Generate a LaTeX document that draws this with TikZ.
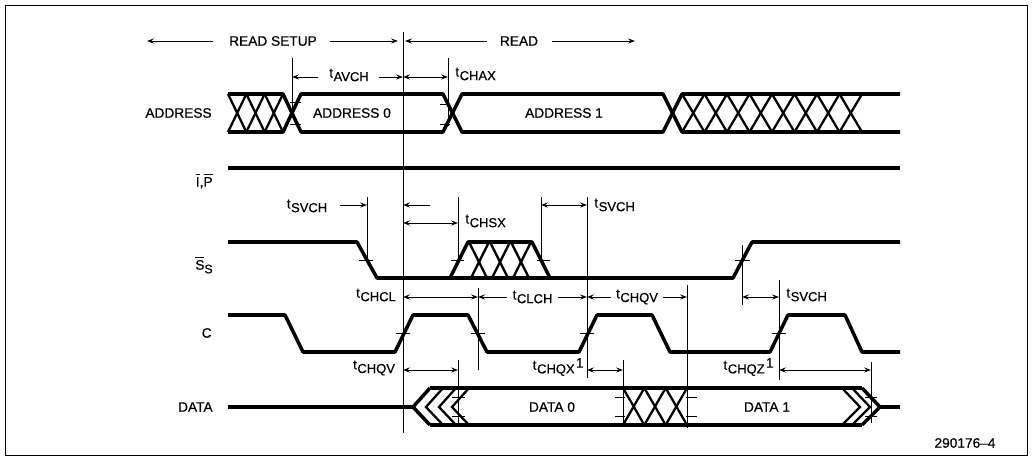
\documentclass[tikz,border=0pt]{standalone}
\usepackage{fontspec}
\setmainfont{Liberation Sans}[FakeBold=0.5]
\usetikzlibrary{arrows.meta}
\newcommand{\tsub}[1]{t\kern0.04em\raisebox{-0.5ex}{\fontsize{7.4}{8}\selectfont #1}}
\newcommand{\ovl}[1]{\ensuremath{\overline{\hbox{#1}}}}
\begin{document}
\begin{tikzpicture}[x=0.02cm,y=-0.02cm,
  wave/.style={line width=2pt,line join=round},
  hatchl/.style={line width=1.3pt},
  thinl/.style={line width=0.55pt},
  dimarr/.style={line width=0.55pt,{Stealth[length=3.8pt,width=2.8pt]}-{Stealth[length=3.8pt,width=2.8pt]}},
  rarr/.style={line width=0.55pt,-{Stealth[length=3.8pt,width=2.8pt]}},
  tickl/.style={line width=0.55pt},
  lbl/.style={font=\fontsize{7.8}{9}\selectfont,inner sep=0pt}]
\useasboundingbox (0,0) rectangle (1032,460);
\draw[thinl] (5,5) rectangle (1027,455);

% ---------- top phase arrows ----------
\node[lbl] (rs) at (273,41) {READ SETUP};
\node[lbl] (rd) at (519,41) {READ};
\draw[rarr] (213,41) -- (147,41);
\draw[rarr] (330,41) -- (398,41);
\draw[rarr] (487,41) -- (405,41);
\draw[rarr] (552,41) -- (635,41);

% main reference line
\draw[thinl] (403,32) -- (403,433);

% ---------- signal names ----------
\node[lbl,anchor=east] (nA) at (212,113) {ADDRESS};
\node[lbl,anchor=east] (nI) at (213,181) {\ovl{I},\ovl{P}};
\node[lbl,anchor=east] (nS) at (213,265) {\ovl{S}\raisebox{-0.5ex}{\fontsize{7}{8}\selectfont S}};
\node[lbl,anchor=east] (nC) at (212,333) {C};
\node[lbl,anchor=east] (nD) at (213,407) {DATA};

% ---------- ADDRESS ----------
\draw[wave] (228,94) -- (283,94) -- (301,132) -- (443,132) -- (462,94) -- (663,94) -- (682,132) -- (900,132);
\draw[wave] (228,132) -- (283,132) -- (301,94) -- (443,94) -- (462,132) -- (663,132) -- (682,94) -- (900,94);
\foreach \k in {0,1,2} {
  \draw[hatchl] (228+18.33*\k,94) -- (246.33+18.33*\k,132);
  \draw[hatchl] (228+18.33*\k,132) -- (246.33+18.33*\k,94);
}
\foreach \k in {0,...,7} {
  \draw[hatchl] (682+22.5*\k,94) -- (704.5+22.5*\k,132);
  \draw[hatchl] (682+22.5*\k,132) -- (704.5+22.5*\k,94);
}
\node[lbl] (a0) at (352,113) {ADDRESS 0};
\node[lbl] (a1) at (564,113) {ADDRESS 1};
\draw[thinl] (292,58) -- (292,112);
\draw[tickl] (290,102) -- (301,102) (290,124) -- (301,124);
\draw[thinl] (448,58) -- (448,126);
\draw[tickl] (440,104) -- (450,104) (440,124) -- (450,124);
\node[lbl] (tavch) at (349,75) {\tsub{AVCH}};
\draw[rarr] (318,77) -- (292,77);
\draw[rarr] (379,77) -- (403,77);
\draw[dimarr] (403,77) -- (448,77);
\node[lbl,anchor=west] (tchax) at (455,74) {\tsub{CHAX}};

% ---------- I,P ----------
\draw[wave] (228,168) -- (900,168);

% ---------- S_S ----------
\draw[wave] (228,242) -- (357,242) -- (377,278) -- (733,278) -- (752,242) -- (900,242);
\draw[wave] (450,278) -- (468,242) -- (532,242) -- (550,278);
\foreach \b in {471,492,513} \draw[hatchl] (\b,278) -- (\b+18,242);
\foreach \t in {469,490,511} \draw[hatchl] (\t,242) -- (\t+18,278);
\draw[thinl] (367,197) -- (367,264);
\draw[tickl] (359,260) -- (373,260);
\draw[thinl] (458,197) -- (458,264);
\draw[tickl] (451,260) -- (464,260);
\draw[thinl] (541,197) -- (541,264);
\draw[tickl] (537,260) -- (550,260);
\draw[thinl] (742,245) -- (742,305);
\draw[tickl] (735,260) -- (750,260);
\draw[thinl] (587,197) -- (587,378);

\node[lbl] (tsv1) at (307,206) {\tsub{SVCH}};
\draw[rarr] (340,205) -- (367,205);
\draw[rarr] (430,205) -- (403,205);
\draw[dimarr] (403,223) -- (458,223);
\node[lbl,anchor=west] (tchsx) at (465,221) {\tsub{CHSX}};
\draw[dimarr] (541,205) -- (587,205);
\node[lbl,anchor=west] (tsv2) at (594,205) {\tsub{SVCH}};

% ---------- middle timing row ----------
\node[lbl] (tchcl) at (376,295) {\tsub{CHCL}};
\draw[dimarr] (403,297) -- (478,297);
\draw[dimarr] (478,297) -- node[lbl,fill=white,inner xsep=3pt,inner ysep=1pt] (tclch) {\tsub{CLCH}} (587,297);
\draw[dimarr] (587,297) -- node[lbl,fill=white,inner xsep=3pt,inner ysep=1pt] (tchqv1) {\tsub{CHQV}} (687,297);
\draw[dimarr] (742,297) -- (779,297);
\node[lbl,anchor=west] (tsv3) at (786,295) {\tsub{SVCH}};
\draw[thinl] (478,288) -- (478,370);
\draw[thinl] (687,285) -- (687,428);
\draw[thinl] (779,280) -- (779,380);

% ---------- C ----------
\draw[wave] (228,315) -- (285,315) -- (303,352) -- (395,352) -- (413,315) -- (468,315) -- (487,352) -- (579,352) -- (597,315) -- (652,315) -- (670,352) -- (770,352) -- (788,315) -- (845,315) -- (862,352) -- (900,352);
\foreach \x in {403,478,587,779} \draw[tickl] (\x-7,333) -- (\x+7,333);

% ---------- data timing row ----------
\node[lbl] (tchqv2) at (374,368) {\tsub{CHQV}};
\draw[dimarr] (403,370) -- (458,370);
\draw[thinl] (458,360) -- (458,425);
\node[lbl,anchor=east] (tchqx) at (584,367) {\tsub{CHQX}\kern0.1em\raisebox{0.3ex}{1}};
\draw[dimarr] (587,370) -- (623,370);
\draw[thinl] (623,360) -- (623,425);
\node[lbl,anchor=east] (tchqz) at (774,367) {\tsub{CHQZ}\kern0.1em\raisebox{0.3ex}{1}};
\draw[dimarr] (779,370) -- (871,370);
\draw[thinl] (871,362) -- (871,423);

% ---------- DATA ----------
\draw[wave] (228,407) -- (413,407);
\draw[wave] (430,388) -- (862,388);
\draw[wave] (430,425) -- (862,425);
\draw[wave] (880,407) -- (900,407);
\draw[wave] (430,388) -- (413,407) -- (430,425);
\foreach \v in {426,439,452} \draw[hatchl] (\v+17,388) -- (\v,407) -- (\v+17,425);
\draw[wave] (862,388) -- (880,407) -- (862,425);
\foreach \v in {870,860} \draw[hatchl] (\v-18,388) -- (\v,407) -- (\v-18,425);
\foreach \k in {0,1,2} {
  \draw[hatchl] (623+21.33*\k,388) -- (644.33+21.33*\k,425);
  \draw[hatchl] (623+21.33*\k,425) -- (644.33+21.33*\k,388);
}
\draw[tickl] (452,397) -- (465,397) (452,416) -- (465,416);
\draw[tickl] (615,397) -- (625,397) (615,416) -- (625,416);
\draw[tickl] (686,397) -- (697,397) (686,416) -- (697,416);
\draw[tickl] (865,397) -- (877,397) (865,416) -- (877,416);
\node[lbl] (d0) at (552,407) {DATA 0};
\node[lbl] (d1) at (767,407) {DATA 1};

\node[lbl] (fig) at (965,443) {290176–4};
\end{tikzpicture}
\end{document}
